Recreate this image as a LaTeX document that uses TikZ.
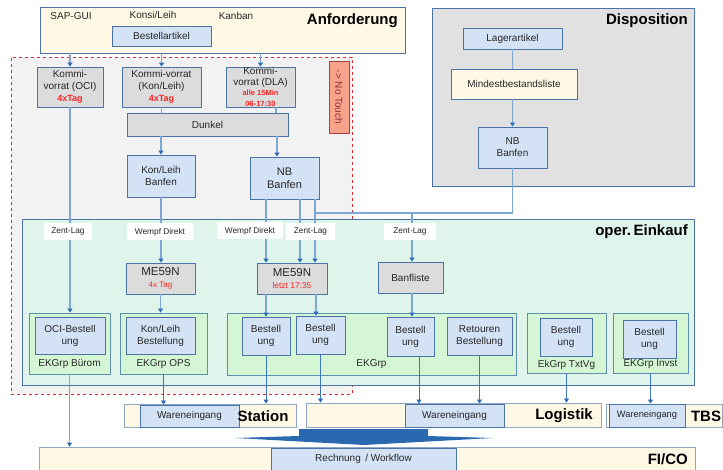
\documentclass[tikz,border=0pt]{standalone}
\usepackage{fontspec}
\setmainfont{Liberation Sans}
\usetikzlibrary{arrows.meta,calc}
\definecolor{cream}{HTML}{FFF8E5}
\definecolor{lblue}{HTML}{D3E2F5}
\definecolor{bord}{HTML}{4A74A8}
\definecolor{gbox}{HTML}{DCDCDC}
\definecolor{dgray}{HTML}{E1E1E1}
\definecolor{mint}{HTML}{DFF5EB}
\definecolor{lgreen}{HTML}{D4F6D4}
\definecolor{grpbord}{HTML}{5E8FAF}
\definecolor{lineblue}{HTML}{7EA6D6}
\definecolor{tipblue}{HTML}{2E6CB5}
\definecolor{redtxt}{HTML}{FF2222}
\definecolor{salmon}{HTML}{F7A38C}
\definecolor{salbord}{HTML}{B04040}
\definecolor{txt}{HTML}{262626}
\definecolor{reddash}{HTML}{E02828}
\definecolor{bigarrow}{HTML}{2A69B0}
\definecolor{barbord}{HTML}{8FA6C4}
\newcommand\redtx[1]{{\color{redtxt}#1}}
\begin{document}
\begin{tikzpicture}[x=1pt,y=-1pt,
  rect/.style n args={4}{minimum width={#3-#1}, minimum height={#4-#2}, at={({(#1+#3)/2},{(#2+#4)/2})}},
  box/.style={draw=bord, line width=0.9pt, inner sep=0pt, align=center, font=\fontsize{10}{12}\selectfont, text=txt},
  bluebox/.style={box, fill=lblue},
  graybox/.style={box, fill=gbox},
  creambox/.style={box, fill=cream},
  cont/.style={draw=bord, line width=0.9pt, inner sep=0pt},
  grp/.style={draw=grpbord, line width=0.9pt, fill=lgreen, inner sep=0pt},
  bar/.style={draw=barbord, line width=0.9pt, fill=cream, inner sep=0pt},
  title/.style={font=\fontsize{15}{18}\selectfont\bfseries, text=black, inner sep=0pt},
  plain/.style={font=\fontsize{10}{12}\selectfont, text=txt, inner sep=0pt},
  lbl/.style={fill=white, inner sep=0pt, font=\fontsize{8.3}{10}\selectfont, text=txt},
  conn/.style={draw=lineblue, line width=1.2pt},
  arr/.style={conn, -{Triangle[width=5pt,length=4pt,color=tipblue]}},
  thinarr/.style={draw=tipblue!80!lineblue, line width=0.8pt, -{Triangle[width=5pt,length=4pt,color=tipblue]}}
]
\clip (0,0) rectangle (723,470);
\fill[white] (0,0) rectangle (723,470);

% containers
\node[rect={11}{57}{352}{394}, inner sep=0pt, fill=black!5, draw=reddash, dashed, line width=0.8pt] (dash) {};
\node[cont, fill=cream, rect={40}{7}{405}{53}] (anf) {};
\node[cont, fill=dgray, rect={432}{8}{694}{186}] (dispo) {};
\node[cont, fill=mint, rect={22}{219}{694}{385}] (eink) {};

% groups
\node[grp, rect={29}{313}{110}{374}] (g1) {};
\node[grp, rect={120}{313}{207}{374}] (g2) {};
\node[grp, rect={227}{313}{516}{375}] (g3) {};
\node[grp, rect={527}{313}{606}{373}] (g4) {};
\node[grp, rect={613}{313}{688}{373}] (g5) {};

% bottom bars
\node[bar, rect={124}{404}{296}{427}] (station) {};
\node[bar, rect={306}{403}{601}{427}] (logi) {};
\node[bar, rect={606}{404}{722.5}{427}] (tbs) {};
\node[bar, rect={39}{447}{695}{476}] (fico) {};
\node[bluebox, rect={140}{405}{239}{427}] (we1) {Wareneingang};
\node[bluebox, rect={405}{404}{504}{427}] (we2) {Wareneingang};
\node[bluebox, rect={609}{404}{685}{427}, font=\fontsize{9.3}{11}\selectfont] (we3) {Wareneingang};
\node[bluebox, rect={271}{448}{456}{476}] (rech) {};
\node[plain] at (363.5,459) {Rechnung \,/ Workflow};

% titles
\node[title, anchor=east] at (398,21) {Anforderung};
\node[title, anchor=east] at (688,21) {Disposition};
\node[title, anchor=east] at (688,232) {oper.\,Einkauf};
\node[title] at (263,416) {Station};
\node[title, anchor=east] at (593,416) {Logistik};
\node[title] at (706,416) {TBS};
\node[title, anchor=east] at (688,459) {FI/CO};

% top texts
\node[plain] at (71,16) {SAP-GUI};
\node[plain] at (153,15) {Konsi/Leih};
\node[plain] at (236,16) {Kanban};

% boxes
\node[bluebox, rect={112}{26}{211}{46}] (bestell) {Bestellartikel};
\node[graybox, rect={37}{67}{103}{107}] (k1) {Kommi-\\vorrat (OCI)\\\redtx{\bfseries\fontsize{9}{11}\selectfont 4xTag}};
\node[graybox, rect={122}{67}{201}{107}] (k2) {Kommi-vorrat\\(Kon/Leih)\\\redtx{\bfseries\fontsize{9}{11}\selectfont 4xTag}};
\node[graybox, rect={226}{67}{295}{107}, font=\fontsize{10}{10.5}\selectfont] (k3) {Kommi-\\vorrat (DLA)\\\redtx{\bfseries\fontsize{7.5}{9.5}\selectfont alle 15Min}\\\redtx{\bfseries\fontsize{7.5}{9.5}\selectfont 06-17:30}};
\node[box, fill=salmon, draw=salbord, rotate=-90, minimum width=72pt, minimum height=20pt, text=salbord!80!black] (notouch) at (339,97) {-> No Touch};
\node[graybox, rect={127}{113}{288}{136}] (dunkel) {Dunkel};
\node[bluebox, rect={127}{155}{195}{197}] (kbanf) {Kon/Leih\\Banfen};
\node[bluebox, rect={250}{157}{319}{199}, font=\fontsize{11}{13}\selectfont] (nbanf) {NB\\Banfen};
\node[bluebox, rect={463}{28}{562}{49}] (lager) {Lagerartikel};
\node[creambox, rect={451}{69}{577}{99}] (mind) {Mindestbestandsliste};
\node[bluebox, rect={478}{127}{547}{168}] (dbanf) {NB\\Banfen};
\node[graybox, rect={126}{263}{195}{294}] (me1) {{\fontsize{11.5}{13}\selectfont ME59N}\\\redtx{\fontsize{8}{10}\selectfont 4x Tag}};
\node[graybox, rect={257}{263}{327}{294}] (me2) {{\fontsize{11.5}{13}\selectfont ME59N}\\\redtx{\fontsize{8.4}{10}\selectfont letzt 17:35}};
\node[graybox, rect={378}{262}{443}{293}] (banfl) {Banfliste};
\node[bluebox, rect={35}{317}{105}{354}] (oci) {OCI-Bestell\\ung};
\node[bluebox, rect={126}{317}{195}{354}] (klb) {Kon/Leih\\Bestellung};
\node[bluebox, rect={242}{317}{290}{355}] (b1) {Bestell\\ung};
\node[bluebox, rect={296}{316}{345}{354}] (b2) {Bestell\\ung};
\node[bluebox, rect={387}{317}{434}{356}] (b3) {Bestell\\ung};
\node[bluebox, rect={447}{317}{512}{355}] (ret) {Retouren\\Bestellung};
\node[bluebox, rect={540}{318}{592}{356}] (b4) {Bestell\\ung};
\node[bluebox, rect={623}{320}{676}{358}] (b5) {Bestell\\ung};

% group labels
\node[plain] at ([yshift=10pt]g1.south) {EKGrp Bürom};
\node[plain] at ([yshift=10pt]g2.south) {EKGrp OPS};
\node[plain] at ([yshift=11pt]g3.south) {EKGrp};
\node[plain] at ([yshift=9pt]g4.south) {EkGrp TxtVg};
\node[plain] at ([yshift=9pt]g5.south) {EKGrp Invst};

% connectors
\draw[arr] (k1.north |- anf.south) -- (k1.north);
\draw[arr] (k2.north |- anf.south) -- (k2.north);
\draw[arr] (k3.north |- anf.south) -- (k3.north);
\draw[conn] (k2.south) -- (k2.south |- dunkel.north);
\draw[conn] ([xshift=15.5pt]k3.south) -- ([xshift=15.5pt]k3.south |- dunkel.north);
\draw[arr] (kbanf.north |- dunkel.south) -- (kbanf.north);
\draw[arr] ([xshift=-7.5pt]nbanf.north |- dunkel.south) -- ([xshift=-7.5pt]nbanf.north);
\draw[arr] (k1.south) -- (k1.south |- g1.north);
\draw[arr] (kbanf.south) -- (kbanf.south |- me1.north);
\draw[arr] (me1.south) -- (me1.south |- g2.north);
\draw[arr] ([xshift=-18.5pt]nbanf.south) -- ([xshift=-18.5pt]nbanf.south |- me2.north);
\draw[arr] ([xshift=15.5pt]nbanf.south) -- ([xshift=15.5pt]nbanf.south |- me2.north);
\draw[arr] ([xshift=30.5pt]nbanf.south) -- ([xshift=30.5pt]nbanf.south |- me2.north);
\draw[conn] (lager.south) -- (lager.south |- mind.north);
\draw[arr] (dbanf.north |- mind.south) -- (dbanf.north);
\coordinate (jr) at (315,213);
\coordinate (jb) at (412,213);
\draw[conn] (dbanf.south) |- (jr);
\draw[arr] (jb) -- (jb |- banfl.north);
\draw[arr] (b1.north |- me2.south) -- (b1.north);
\draw[arr] ([xshift=-4.5pt]b2.north |- me2.south) -- ([xshift=-4.5pt]b2.north);
\draw[arr] ([xshift=1.5pt]banfl.south) -- ([xshift=1.5pt]banfl.south |- b3.north);

\draw[arr] (g1.south) -- (g1.south |- fico.north);
\draw[thinarr] (g2.south) -- (g2.south |- we1.north);
\draw[thinarr] (b1.south) -- (b1.south |- station.north);
\draw[thinarr] (b2.south) -- (b2.south |- logi.north);
\draw[thinarr] ([xshift=8.5pt]b3.south) -- ([xshift=8.5pt]b3.south |- we2.north);
\draw[thinarr] (ret.south) -- (ret.south |- we2.north);
\draw[thinarr] (g4.south) -- (g4.south |- logi.north);
\draw[thinarr] (g5.south) -- (g5.south |- we3.north);

% labels on connectors
\node[lbl, minimum width=48pt, minimum height=17pt] (zl1) at (68,232) {Zent-Lag};
\node[lbl, minimum width=66pt, minimum height=17pt] (wd1) at (160,232) {Wempf Direkt};
\node[lbl, minimum width=66pt, minimum height=17pt] (wd2) at (250,231) {Wempf Direkt};
\node[lbl, minimum width=49pt, minimum height=17pt] (zl2) at (310.5,232) {Zent-Lag};
\node[lbl, minimum width=52pt, minimum height=17pt] (zl3) at (410,232) {Zent-Lag};

% big arrow
\fill[bigarrow] (299,429) -- (428,429) -- (428,436) -- (493,438) -- (364,445) -- (235,438) -- (299,436) -- cycle;
\end{tikzpicture}
\end{document}
